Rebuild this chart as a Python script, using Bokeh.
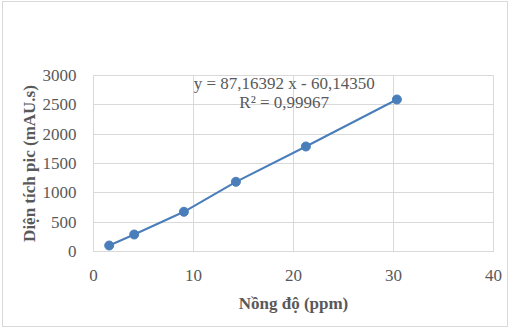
from bokeh.plotting import figure
from bokeh.models import Label, FixedTicker, Range1d
from bokeh.embed import file_html
from bokeh.resources import INLINE

conc = [1.57, 4.07, 9.04, 14.24, 21.24, 30.34]
area = [102, 290, 677, 1188, 1790, 2591]
x_ticks = [0, 10, 20, 30, 40]
y_ticks = [0, 500, 1000, 1500, 2000, 2500, 3000]
equation = "y = 87,16392 x - 60,14350"
r2_text = "R² = 0,99967"
x_title = "Nồng độ (ppm)"
y_title = "Diện tích pic (mAU.s)"

FONT = "Liberation Serif"
GRAY = "#595959"
GRID = "#d9d9d9"
BLUE = "#4a7ebb"

p = figure(width=506, height=326, output_backend="svg", toolbar_location=None,
           x_range=Range1d(0, 40), y_range=Range1d(0, 3000),
           min_border_left=90, min_border_right=16, min_border_top=73, min_border_bottom=77)
p.styles = {"margin-left": "2px", "margin-top": "1px", "border": "1px solid #d9d9d9"}
p.outline_line_color = GRID
p.background_fill_color = "white"
p.border_fill_color = "white"

p.line(conc, area, line_color=BLUE, line_width=2)
p.scatter(conc, area, size=9, fill_color=BLUE, line_color=BLUE)

for ax in (p.xaxis[0], p.yaxis[0]):
    ax.axis_line_color = GRID
    ax.major_tick_line_color = None
    ax.minor_tick_line_color = None
    ax.major_label_text_font = FONT
    ax.major_label_text_font_size = "17px"
    ax.major_label_text_color = GRAY
    ax.axis_label_text_font = FONT
    ax.axis_label_text_font_size = "17px"
    ax.axis_label_text_font_style = "bold"
    ax.axis_label_text_color = GRAY

p.xaxis.ticker = FixedTicker(ticks=x_ticks)
p.yaxis.ticker = FixedTicker(ticks=y_ticks)
p.xaxis.axis_label = x_title
p.yaxis.axis_label = y_title
p.xaxis.major_label_standoff = 12
p.yaxis.major_label_standoff = 11
p.xaxis.axis_label_standoff = 10
p.yaxis.axis_label_standoff = 1

p.xgrid.grid_line_color = GRID
p.ygrid.grid_line_color = GRID

p.add_layout(Label(x=19.07, y=2864, text=equation, text_font=FONT, text_font_size="17px",
                   text_color=GRAY, text_align="center", text_baseline="middle"))
p.add_layout(Label(x=19.07, y=2540, text=r2_text, text_font=FONT, text_font_size="17px",
                   text_color=GRAY, text_align="center", text_baseline="middle"))

open("out.html", "w").write(file_html(p, INLINE))
